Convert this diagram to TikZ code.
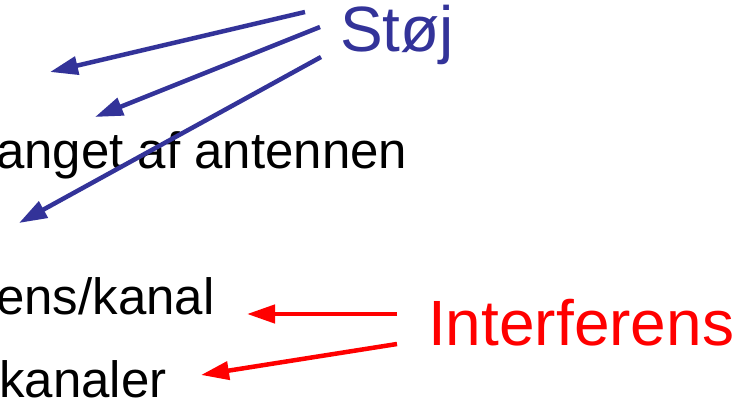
\documentclass[tikz,border=0pt]{standalone}
\usepackage{fontspec}
\setmainfont{Liberation Sans}
\usetikzlibrary{arrows.meta}
\definecolor{noiseblue}{RGB}{51,51,153}
\definecolor{intred}{RGB}{255,0,0}
\begin{document}
\begin{tikzpicture}[x=1pt,y=-1pt,
  bodytext/.style={anchor=base west,inner sep=0pt,font=\fontsize{51}{57}\selectfont,text=black},
  biglabel/.style={anchor=base west,inner sep=0pt,font=\fontsize{64}{70}\selectfont},
  noisearrow/.style={draw=noiseblue,line width=4.5pt,-{Triangle[length=28pt,width=18pt]}},
  intarrow/.style={draw=intred,line width=4.5pt,-{Triangle[length=28pt,width=18pt]}}]
\useasboundingbox (0,0) rectangle (740,409);
\clip (0,0) rectangle (740,409);
% texts
\node[bodytext] (t1) at (-4,169) {anget af antennen};
\node[bodytext] (t2) at (-4,315) {ens/kanal};
\node[bodytext] (t3) at (-1,397) {kanaler};
\node[biglabel,text=noiseblue] (stoj) at (340,52) {Støj};
\node[biglabel,text=intred] (intf) at (428,345) {Interferens};
% noise arrows
\coordinate (s1) at (305,12);
\coordinate (s2) at (320,27);
\coordinate (s3) at (321,57);
\coordinate (e1) at (50,72);
\coordinate (e2) at (95,117);
\coordinate (e3) at (19,223);
\draw[noisearrow] (s1) -- (e1);
\draw[noisearrow] (s2) -- (e2);
\draw[noisearrow] (s3) -- (e3);
% interference arrows
\coordinate (r1) at (397,314);
\coordinate (r2) at (397,344);
\coordinate (f1) at (247,314);
\coordinate (f2) at (201,375);
\draw[intarrow] (r1) -- (f1);
\draw[intarrow] (r2) -- (f2);
\end{tikzpicture}
\end{document}
